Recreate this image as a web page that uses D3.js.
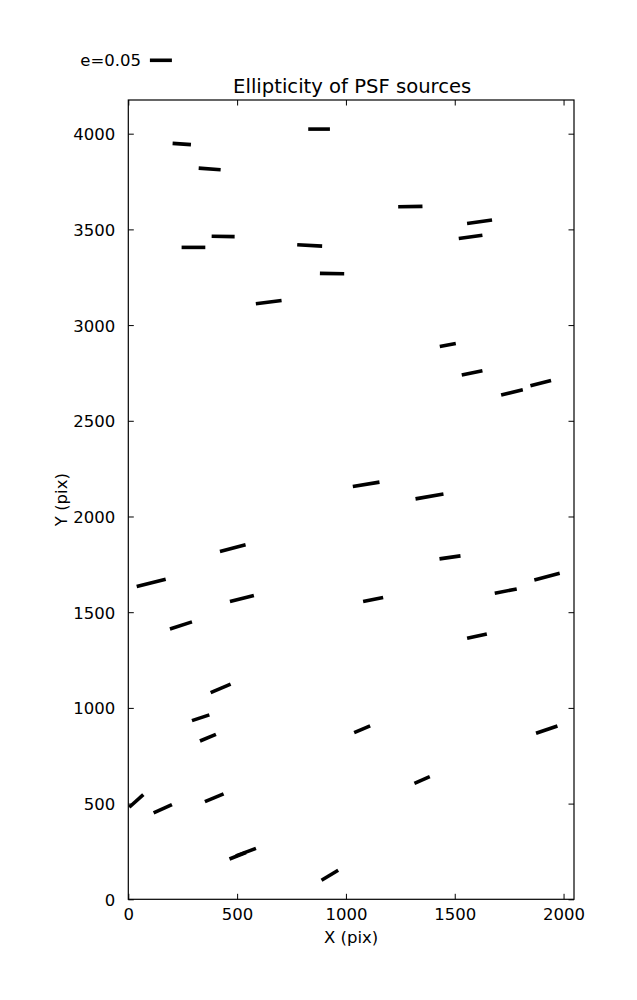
<!DOCTYPE html>
<html>
<head>
<meta charset="utf-8">
<script src="https://cdn.jsdelivr.net/npm/d3@7"></script>
<style>
  html, body { margin: 0; padding: 0; background: #fff; }
  text { font-family: "DejaVu Sans", sans-serif; fill: #000; }
</style>
</head>
<body>
<svg id="chart" width="637" height="1000"></svg>
<script>
// ---- data (source position in pix, ellipticity e, position angle in degrees) ----
const xPos = [245.7, 373.8, 876.6, 299.4, 435.8, 833.4, 936.3, 1295.9, 1614.0, 1572.8,
              1468.0, 645.2, 1579.7, 1762.9, 1895.1, 1092.9, 1384.0, 105.2, 479.9, 242.0,
              522.1, 424.3, 332.5, 1478.2, 1125.0, 1734.4, 1924.0, 1602.2, 366.0, 1074.5,
              1922.7, 1350.0, 36.7, 158.4, 394.9, 502.8, 540.5, 926.2];
const yPos = [3946, 3816, 4024, 3406, 3463, 3416, 3269, 3619, 3540, 3461,
              2896, 3120, 2750, 2648, 2697, 2168, 2105, 1653, 1834.5, 1431,
              1571, 1101.8, 948.6, 1786.4, 1565.9, 1610.3, 1686, 1375, 844.6, 888.5,
              886.4, 623.5, 513.8, 473, 530.5, 227.4, 246.2, 125.4];
const ellip = [0.0418, 0.0500, 0.0493, 0.0539, 0.0523, 0.0568, 0.0552, 0.0552, 0.0573, 0.0543,
               0.0370, 0.0589, 0.0480, 0.0507, 0.0484, 0.0614, 0.0645, 0.0680, 0.0602, 0.0525,
               0.0561, 0.0493, 0.0416, 0.0482, 0.0464, 0.0509, 0.0596, 0.0459, 0.0393, 0.0393,
               0.0514, 0.0380, 0.0430, 0.0457, 0.0459, 0.0402, 0.0486, 0.0441];
const angleDeg = [-4, -4, 0, 0, -1, -3, -1, 1, 7.7, 8,
                  10.6, 7.4, 11.7, 13.7, 14.4, 9.4, 10.1, 14.2, 14.6, 17.7,
                  14, 22.8, 18.2, 8.1, 11.3, 11, 14.7, 12.4, 22.7, 22.7,
                  18.9, 23.4, 42, 24.4, 22.3, 21.5, 20.6, 31];
const xTicks = [0, 500, 1000, 1500, 2000];
const yTicks = [0, 500, 1000, 1500, 2000, 2500, 3000, 3500, 4000];
const xDomain = [0, 2048];
const yDomain = [0, 4176];
const keyE = 0.05;
const titleText = "Ellipticity of PSF sources";
const xLabel = "X (pix)";
const yLabel = "Y (pix)";

(function () {
// ---- layout ----
const svg = d3.select("#chart");
const pL = 128.3, pR = 574, pT = 100, pB = 899.3;
const x = d3.scaleLinear().domain(xDomain).range([pL, pR]);
const y = d3.scaleLinear().domain(yDomain).range([pB, pT]);
const len = d3.scaleLinear().domain([0, keyE]).range([0, 22]); // whisker length in px
const tickFont = 16.5;
const tickLen = 5.5;
const fmt = d3.format("d");

// whiskers
const data = xPos.map((d, i) => ({ x: d, y: yPos[i], e: ellip[i], a: angleDeg[i] }));
const seg = d => {
  const h = len(d.e) / 2, r = d.a * Math.PI / 180;
  return { x1: x(d.x) - h * Math.cos(r), y1: y(d.y) + h * Math.sin(r),
           x2: x(d.x) + h * Math.cos(r), y2: y(d.y) - h * Math.sin(r) };
};
svg.append("g").selectAll("line").data(data).join("line")
  .attr("x1", d => seg(d).x1).attr("y1", d => seg(d).y1)
  .attr("x2", d => seg(d).x2).attr("y2", d => seg(d).y2)
  .attr("stroke", "#000").attr("stroke-width", 3.6).attr("stroke-linecap", "butt");

// axes (ticks inward, on all four sides)
const axB = d3.axisBottom(x).tickValues(xTicks).tickFormat(fmt).tickSizeInner(-tickLen).tickSizeOuter(0);
const axT = d3.axisTop(x).tickValues(xTicks).tickSizeInner(-tickLen).tickSizeOuter(0).tickFormat("");
const axL = d3.axisLeft(y).tickValues(yTicks).tickFormat(fmt).tickSizeInner(-tickLen).tickSizeOuter(0).tickPadding(13);
const axR = d3.axisRight(y).tickValues(yTicks).tickSizeInner(-tickLen).tickSizeOuter(0).tickFormat("");

const gB = svg.append("g").attr("transform", `translate(0,${pB})`).call(axB);
const gT = svg.append("g").attr("transform", `translate(0,${pT})`).call(axT);
const gL = svg.append("g").attr("transform", `translate(${pL},0)`).call(axL);
const gR = svg.append("g").attr("transform", `translate(${pR},0)`).call(axR);
[gB, gT, gL, gR].forEach(g => {
  g.select(".domain").remove();
  g.selectAll(".tick line").attr("stroke", "#000").attr("stroke-width", 1);
  g.selectAll(".tick text").attr("font-family", "DejaVu Sans").attr("font-size", tickFont).attr("fill", "#000");
});
gB.selectAll(".tick text").attr("dy", "0.71em").attr("y", 8.5);
gL.selectAll(".tick text").attr("dy", "0.36em");

// frame
svg.append("rect").attr("x", pL).attr("y", pT)
  .attr("width", pR - pL).attr("height", pB - pT)
  .attr("fill", "none").attr("stroke", "#000").attr("stroke-width", 1.2);

// labels
svg.append("text").attr("x", (pL + pR) / 2).attr("y", 943)
  .attr("text-anchor", "middle").attr("font-size", 16.5).text(xLabel);
svg.append("text").attr("transform", `translate(67,${(pT + pB) / 2}) rotate(-90)`)
  .attr("text-anchor", "middle").attr("font-size", 16.5).text(yLabel);
svg.append("text").attr("x", (pL + pR) / 2 + 1).attr("y", 93)
  .attr("text-anchor", "middle").attr("font-size", 19.6).text(titleText);

// quiver key
const keyCx = 160.9, keyY = 60.3;
svg.append("line")
  .attr("x1", keyCx - len(keyE) / 2).attr("x2", keyCx + len(keyE) / 2)
  .attr("y1", keyY).attr("y2", keyY)
  .attr("stroke", "#000").attr("stroke-width", 3.6);
svg.append("text").attr("x", 141).attr("y", 65.5)
  .attr("text-anchor", "end").attr("font-size", 16.5).text("e=" + keyE);
})();
</script>
</body>
</html>
